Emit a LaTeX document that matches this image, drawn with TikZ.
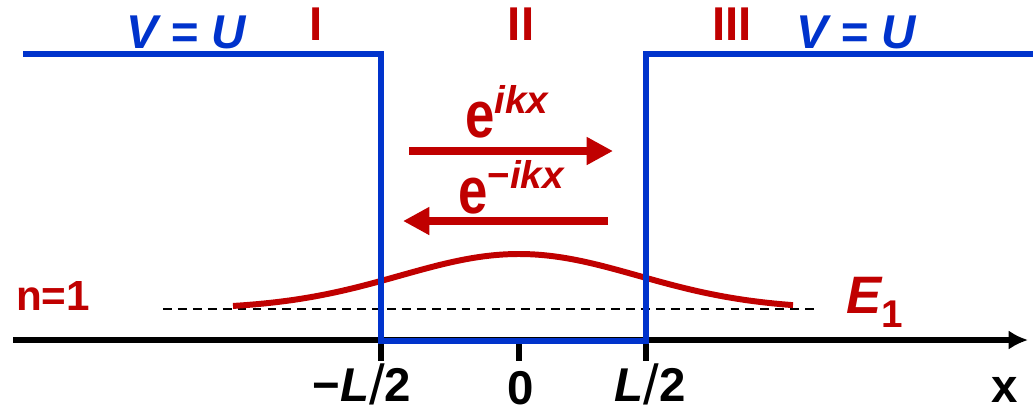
\documentclass[tikz,border=0pt]{standalone}
\usepackage{fontspec}
\setmainfont{Liberation Sans}
\usetikzlibrary{arrows.meta}
\definecolor{wellblue}{RGB}{0,51,204}
\definecolor{wavered}{RGB}{192,0,0}

\begin{document}
\begin{tikzpicture}[x=0.02cm, y=-0.02cm,
	every node/.style={inner sep=0pt, font=\bfseries\fontsize{27}{30}\selectfont},
	well/.style={wellblue, line width=3.4pt, line join=miter},
	wave/.style={wavered, line width=3.4pt},
	flow/.style={wavered, line width=5pt, -{Triangle[length=15pt, width=15pt]}},
	tick/.style={black, line width=3.8pt},
	pot/.style={wellblue, font=\bfseries\itshape\fontsize{27}{30}\selectfont},
	region/.style={wavered}]
	\useasboundingbox (0,0) rectangle (1033,414);
	% axis and ticks
	\coordinate (x0) at (13,340);
	\coordinate (x1) at (1028,340);
	\draw[line width=3.2pt, -{Latex[length=11pt, width=11pt]}] (x0) -- (x1);
	\foreach \n/\p in {mL/381, zero/519, pL/646} {
		\coordinate (t\n) at (\p,340);
		\coordinate (b\n) at (\p,361);
		\draw[tick] (t\n) -- (b\n);
	}
	\node[anchor=base] (lmL) at (362,401) {−\textit{L}\raisebox{-2pt}{\mdseries\fontsize{32}{32}\selectfont/}2};
	\node[anchor=base] (lzero) at (521,404) {0};
	\node[anchor=base] (lpL) at (650,401) {\textit{L}\raisebox{-2pt}{\mdseries\fontsize{32}{32}\selectfont/}2};
	\node[anchor=base] (lx) at (1005,402) {x};
	% energy level and wave function
	\coordinate (d0) at (163,309);
	\coordinate (d1) at (818,309);
	\draw[dash pattern=on 5pt off 3.5pt, line width=1.1pt] (d0) -- (d1);
	\draw[wave] plot[domain=233:793, samples=90, smooth] (\x, {309-55*exp(-0.5*((\x-519)/119)^2)});
	% potential well
	\coordinate (wTL) at (23,54);
	\coordinate (wL) at (381,54);
	\coordinate (wBL) at (381,341);
	\coordinate (wBR) at (646,341);
	\coordinate (wR) at (646,54);
	\coordinate (wTR) at (1033,54);
	\draw[well] (wTL) -- (wL) -- (wBL) -- (wBR) -- (wR) -- (wTR);
	\node[pot] (VL) at (186,32) {V = U};
	\node[pot] (VR) at (856,32) {V = U};
	\node[region] (rI) at (316,24) {I};
	\node[region] (rII) at (521,24) {II};
	\node[region] (rIII) at (732,24) {III};
	% travelling waves
	\node[wavered, anchor=base west] (ep) at (465,137) {\fontsize{30}{30}\selectfont\scalebox{1}[1.25]{e}\raisebox{13.6pt}{\fontsize{22}{22}\selectfont\itshape ikx}};
	\node[wavered, anchor=base west] (em) at (458,213) {\fontsize{30}{30}\selectfont\scalebox{1}[1.25]{e}\raisebox{14pt}{\fontsize{22}{22}\selectfont −\itshape ikx}};
	\coordinate (fwd0) at (409,151);
	\coordinate (fwd1) at (613,151);
	\draw[flow] (fwd0) -- (fwd1);
	\coordinate (bwd0) at (608,221);
	\coordinate (bwd1) at (403,221);
	\draw[flow] (bwd0) -- (bwd1);
	\node[wavered, font=\bfseries\fontsize{24}{26}\selectfont] (n1) at (53,296) {n=1};
	\node[wavered, anchor=base west] (E1) at (846,313) {\fontsize{30}{30}\selectfont\itshape E\raisebox{-8pt}{\upshape\fontsize{22}{22}\selectfont 1}};
\end{tikzpicture}
\end{document}
